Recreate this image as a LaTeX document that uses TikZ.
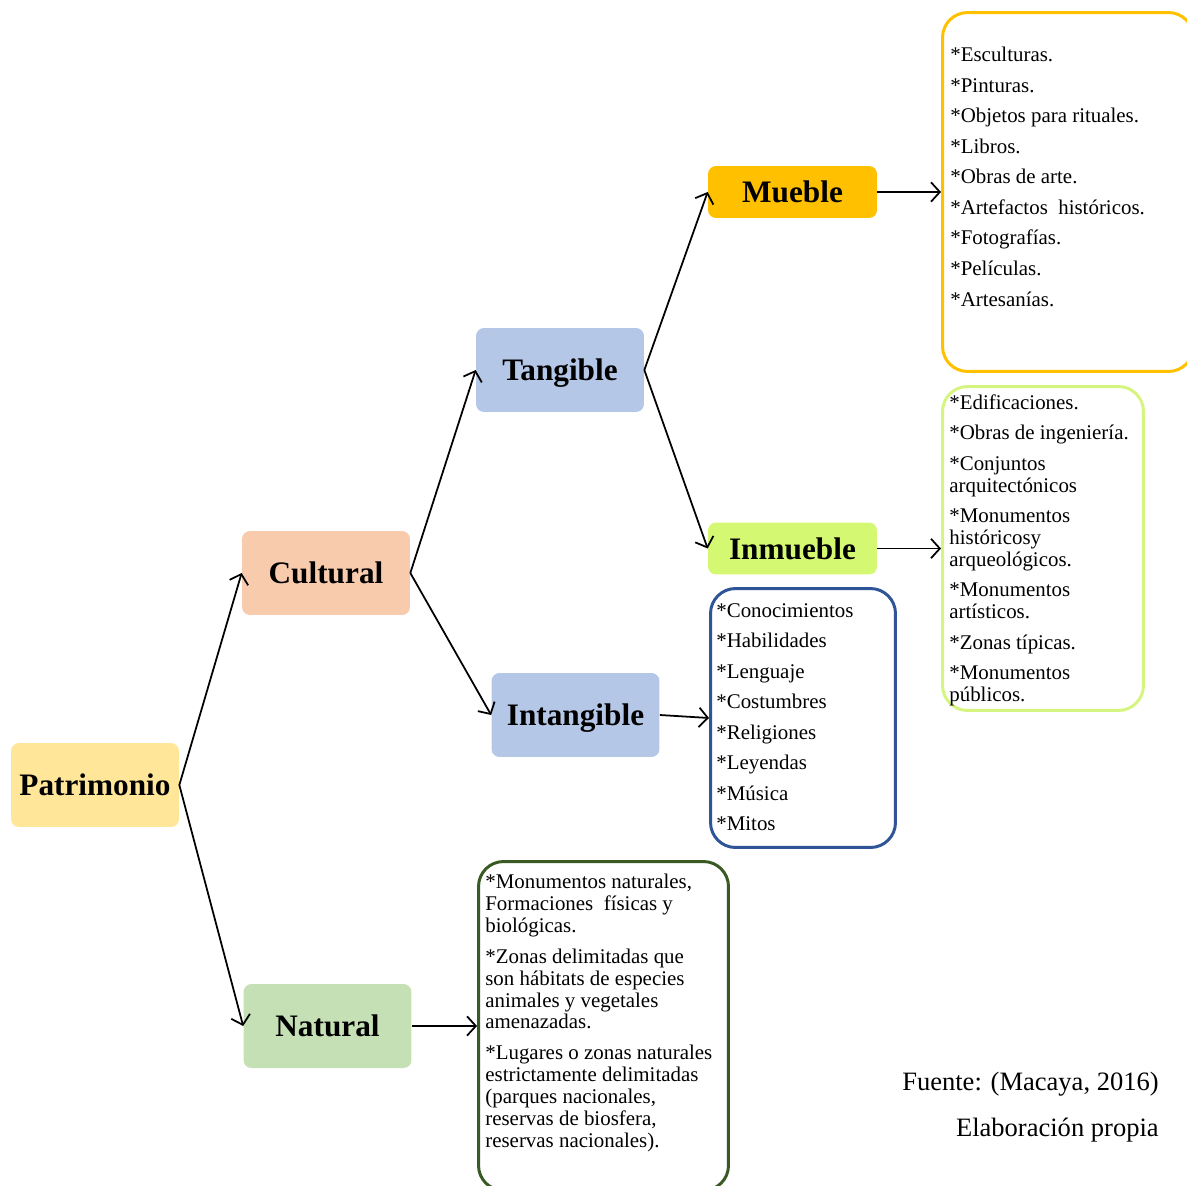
\documentclass[tikz,border=0pt]{standalone}
\usepackage{fontspec}
\setmainfont{Liberation Serif}
\usetikzlibrary{arrows.meta}

\definecolor{patri}{HTML}{FFE699}
\definecolor{cult}{HTML}{F8CBAD}
\definecolor{natu}{HTML}{C5E0B4}
\definecolor{tang}{HTML}{B4C7E7}
\definecolor{mueb}{HTML}{FFC000}
\definecolor{inmu}{HTML}{D5F872}
\definecolor{inmuline}{HTML}{D6F580}
\definecolor{intaline}{HTML}{2F5597}
\definecolor{natuline}{HTML}{3A5A24}

\begin{document}
\begin{tikzpicture}[x=0.02cm, y=-0.02cm,
    title/.style={rounded corners=0.16cm, minimum width=3.36cm, minimum height=1.68cm, inner sep=0pt, text depth=0pt, font=\fontsize{17.8}{20}\selectfont\bfseries},
    subtitle/.style={title, minimum width=3.38cm, minimum height=1.04cm},
    listbox/.style={draw, line width=1.7pt, rounded corners=0.5cm, inner sep=0pt},
    items/.style={align=left, inner sep=0pt, anchor=north west, font=\fontsize{11.9}{12.47}\selectfont},
    source/.style={anchor=base east, inner sep=0pt, font=\fontsize{15.1}{18}\selectfont},
    arr/.style={-{Straight Barb[length=5pt, width=11pt]}, line width=1pt}]
  \useasboundingbox (0,0) rectangle (1187,1186);

  % level 0 and 1
  \node[title, fill=patri] (patrimonio) at (95,785) {Patrimonio};
  \node[title, fill=cult] (cultural) at (326,573) {Cultural};
  \node[title, fill=natu] (natural) at (327.5,1026) {Natural};

  % level 2
  \node[title, fill=tang] (tangible) at (560,370) {Tangible};
  \node[title, fill=tang] (intangible) at (575.5,715) {Intangible};

  % level 3
  \node[subtitle, fill=mueb] (mueble) at (792.5,192) {Mueble};
  \node[subtitle, fill=inmu] (inmueble) at (792.5,548.5) {Inmueble};

  % lists
  \node[listbox, draw=mueb, minimum width=5.02cm, minimum height=7.18cm] (muebbox) at (1068,192) {};
  \node[items] (muebtext) at (950,47) {*Esculturas.\\[4.9pt]*Pinturas.\\[4.9pt]*Objetos para rituales.\\[4.9pt]*Libros.\\[4.9pt]*Obras de arte.\\[4.9pt]*Artefactos\ \ históricos.\\[4.9pt]*Fotografías.\\[4.9pt]*Películas.\\[4.9pt]*Artesanías.};

  \node[listbox, draw=inmuline, minimum width=4.02cm, minimum height=6.48cm] (inmubox) at (1043,548.5) {};
  \node[items] (inmutext) at (949,394) {*Edificaciones.\\[4.9pt]*Obras de ingeniería.\\[4.9pt]*Conjuntos\\arquitectónicos\\[4.9pt]*Monumentos\\históricosy\\arqueológicos.\\[4.9pt]*Monumentos\\artísticos.\\[4.9pt]*Zonas típicas.\\[4.9pt]*Monumentos\\públicos.};

  \node[listbox, draw=intaline, minimum width=3.7cm, minimum height=5.18cm] (intabox) at (803,718) {};
  \node[items] (intatext) at (716,603) {*Conocimientos\\[4.9pt]*Habilidades\\[4.9pt]*Lenguaje\\[4.9pt]*Costumbres\\[4.9pt]*Religiones\\[4.9pt]*Leyendas\\[4.9pt]*Música\\[4.9pt]*Mitos};

  \node[listbox, draw=natuline, minimum width=5.0cm, minimum height=6.58cm] (natubox) at (603.5,1026) {};
  \node[items] (natutext) at (485,874) {*Monumentos naturales,\\Formaciones\ \ físicas y\\biológicas.\\[4.9pt]*Zonas delimitadas que\\son hábitats de especies\\animales y vegetales\\amenazadas.\\[4.9pt]*Lugares o zonas naturales\\estrictamente delimitadas\\(parques nacionales,\\reservas de biosfera,\\reservas nacionales).};

  % source
  \node[source] (fuente) at (1159,1090) {Fuente: (Macaya, 2016)};
  \node[source] (elab) at (1159,1136) {Elaboración propia};

  % connectors
  \draw[arr] (patrimonio.east) -- (cultural.west);
  \draw[arr] (patrimonio.east) -- (natural.west);
  \draw[arr] (cultural.east) -- (tangible.west);
  \draw[arr] (cultural.east) -- (intangible.west);
  \draw[arr] (tangible.east) -- (mueble.west);
  \draw[arr] (tangible.east) -- (inmueble.west);
  \draw[arr] (mueble.east) -- (muebbox.west);
  \draw[arr] (inmueble.east) -- (inmubox.west);
  \draw[arr] (intangible.east) -- (intabox.west);
  \draw[arr] (natural.east) -- (natubox.west);
\end{tikzpicture}
\end{document}
